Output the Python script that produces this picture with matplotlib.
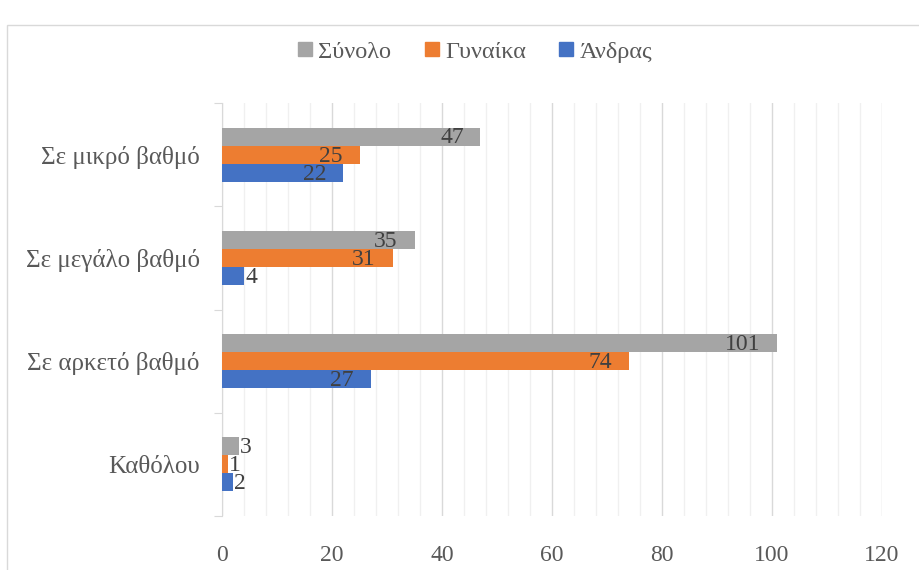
import matplotlib
matplotlib.use("Agg")
import matplotlib.pyplot as plt
from matplotlib.patches import Rectangle
from matplotlib.ticker import MultipleLocator
from matplotlib.lines import Line2D
import numpy as np

plt.rcParams['font.family'] = ['Liberation Serif', 'DejaVu Serif']

categories = ["Καθόλου", "Σε αρκετό βαθμό", "Σε μεγάλο βαθμό", "Σε μικρό βαθμό"]
series_names = ["Άνδρας", "Γυναίκα", "Σύνολο"]
andras = [2, 27, 4, 22]
gynaika = [1, 74, 31, 25]
synolo = [3, 101, 35, 47]
colors = ["#4472C4", "#ED7D31", "#A5A5A5"]
x_ticks = [0, 20, 40, 60, 80, 100, 120]

W, H = 919, 570
fig = plt.figure(figsize=(W / 100, H / 100), dpi=100)

# plot area in pixel coordinates
left, right, top, bottom = 222, 882, 103, 516
ax = fig.add_axes([left / W, 1 - bottom / H, (right - left) / W, (bottom - top) / H])

# outer chart frame (extends past the right and bottom edges)
fig.patches.append(Rectangle((7 / W, -0.1), 1.2, 1 - 25 / H + 0.1,
                             transform=fig.transFigure, fill=False,
                             edgecolor="#d9d9d9", linewidth=1.0, zorder=0))

y = np.arange(len(categories))
bh = 0.175
values = [andras, gynaika, synolo]
offsets = [-bh, 0, bh]
for vals, col, off, name in zip(values, colors, offsets, series_names):
    ax.barh(y + off, vals, height=bh, color=col, label=name, zorder=3)
    for v, yy in zip(vals, y + off):
        if v >= 10:
            ax.annotate(str(v), (v, yy), xytext=(-12, -1), textcoords="offset points",
                        ha="right", va="center", fontsize=17, color="#404040", zorder=4)
        else:
            ax.annotate(str(v), (v, yy), xytext=(1, -1), textcoords="offset points",
                        ha="left", va="center", fontsize=17, color="#404040", zorder=4)

ax.set_xlim(0, 120)
ax.set_ylim(-0.5, len(categories) - 0.5)
ax.set_xticks(x_ticks)
ax.set_xticklabels([str(t) for t in x_ticks])
ax.xaxis.set_minor_locator(MultipleLocator(4))
ax.grid(axis="x", which="major", color="#d9d9d9", linewidth=1.0, zorder=0)
ax.grid(axis="x", which="minor", color="#f0f0f0", linewidth=1.0, zorder=0)
ax.tick_params(axis="x", which="both", length=0, labelsize=17, labelcolor="#595959", pad=21)

# category labels centred in each band, ticks at band boundaries
ax.set_yticks(np.arange(-0.5, len(categories), 1.0))
ax.set_yticklabels([])
ax.set_yticks(y, minor=True)
ax.set_yticklabels(categories, minor=True)
ax.tick_params(axis="y", which="major", length=6, color="#d9d9d9", direction="out")
ax.tick_params(axis="y", which="minor", length=0, labelsize=18, labelcolor="#595959", pad=16)

for s in ["top", "right", "bottom"]:
    ax.spines[s].set_visible(False)
ax.spines["left"].set_color("#d9d9d9")
ax.set_axisbelow(True)

handles = [Line2D([], [], marker="s", linestyle="none", markersize=10,
                  markerfacecolor=c, markeredgecolor=c) for c in [colors[2], colors[1], colors[0]]]
fig.legend(handles, ["Σύνολο", "Γυναίκα", "Άνδρας"], loc="center",
           bbox_to_anchor=(473 / W, 1 - 52 / H), ncol=3, frameon=False,
           fontsize=17.5, labelcolor="#595959", handletextpad=0.1, columnspacing=1.2,
           handlelength=0.9)

fig.savefig("out.png", dpi=100)
